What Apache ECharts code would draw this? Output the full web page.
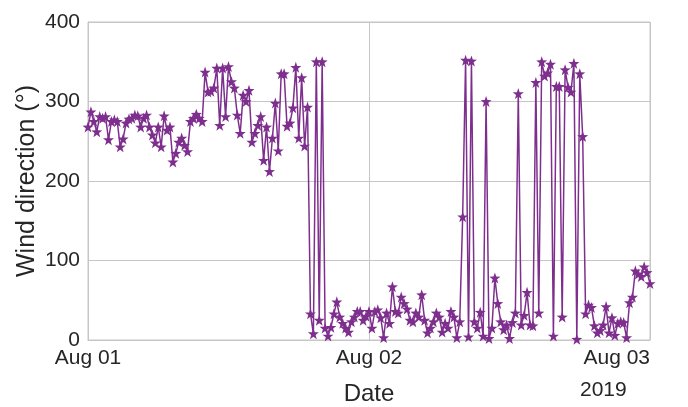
<!DOCTYPE html>
<html>
<head>
<meta charset="utf-8">
<script src="https://cdn.jsdelivr.net/npm/echarts@6/dist/echarts.min.js"></script>
<style>
  html, body { margin: 0; padding: 0; background: #ffffff; }
  #chart { width: 688px; height: 407px; }
</style>
</head>
<body>
<div id="chart"></div>
<script>
// Wind direction readings, one every 15 minutes from Aug 01 00:00 to Aug 03 00:00 (2019).
// The x axis counts hours since Aug 01 00:00.
const stepHours = 0.25;
const windDirection = [
  268, 287, 275, 262, 281, 279, 281, 252, 275, 277,
  275, 243, 253, 273, 278, 279, 283, 282, 268, 279,
  283, 268, 258, 248, 268, 243, 282, 264, 268, 224,
  235, 249, 254, 245, 237, 275, 279, 284, 279, 275,
  337, 312, 313, 317, 342, 270, 342, 281, 344, 325,
  317, 283, 260, 308, 300, 314, 249, 260, 270, 281,
  226, 268, 212, 254, 298, 238, 335, 335, 269, 273,
  292, 343, 254, 330, 244, 293, 33, 8, 350, 25,
  350, 15, 5, 16, 33,
  48, 29, 21, 15, 10, 23, 29, 36, 36, 25,
  30, 36, 15, 36, 38, 28, 3, 34, 21, 67,
  36, 34, 54, 46, 39, 25, 23, 34, 29, 57,
  25, 9, 15, 23, 34, 29, 10, 21, 15, 36,
  29, 3,
  23, 155, 352, 4, 351, 23, 15, 35, 5, 300,
  2, 15, 78, 46, 23, 13, 19, 2, 22, 34,
  310, 19, 31, 60, 19, 18,
  324, 34, 350, 332, 336, 347, 5, 319, 319, 29,
  340, 318, 312, 348, 1, 335, 256, 33, 44, 41,
  18, 9, 12, 19, 42, 9, 28, 6, 21, 23,
  22, 3, 47, 54, 87, 83, 80, 92, 85, 71
];

// Axis ticks and captions
const dayTicks = ['Aug 01', 'Aug 02', 'Aug 03'];
const yTicks = [0, 100, 200, 300, 400];
const yearLabel = '2019';

const hoursPerDay = 24;
const seriesData = windDirection.map((v, i) => [i * stepHours, v]);

const starPath = 'path://M0,-10L2.35,-3.24L9.51,-3.09L3.8,1.24L5.88,8.09L0,4L-5.88,8.09L-3.8,1.24L-9.51,-3.09L-2.35,-3.24Z';
const textColor = '#262626';
const gridColor = '#c6c6c6';
const fontFamily = '"Liberation Sans", Arial, sans-serif';

const chart = echarts.init(document.getElementById('chart'), null, { renderer: 'canvas' });
chart.setOption({
  animation: false,
  backgroundColor: '#ffffff',
  grid: {
    left: 88, right: 38, top: 22, bottom: 67,
    outerBoundsMode: 'none',
    containLabel: false,
    show: true, borderColor: gridColor, borderWidth: 1
  },
  xAxis: {
    type: 'value',
    min: 0,
    max: hoursPerDay * (dayTicks.length - 1),
    interval: hoursPerDay,
    name: 'Date',
    nameLocation: 'middle',
    nameGap: 42,
    nameMoveOverlap: false,
    nameTextStyle: { fontSize: 24, color: textColor, fontFamily: fontFamily },
    axisLine: { show: true, lineStyle: { color: gridColor, width: 1 } },
    axisTick: { show: false },
    splitLine: { show: true, lineStyle: { color: gridColor, width: 1 } },
    axisLabel: {
      fontSize: 21, color: textColor, fontFamily: fontFamily, margin: 8,
      alignMaxLabel: 'right',
      formatter: function (value) {
        const idx = Math.round(value / hoursPerDay);
        return dayTicks[idx] !== undefined ? dayTicks[idx] : '';
      }
    }
  },
  yAxis: {
    type: 'value',
    min: yTicks[0],
    max: yTicks[yTicks.length - 1],
    interval: 100,
    name: 'Wind direction (°)',
    nameLocation: 'middle',
    nameGap: 48,
    nameMoveOverlap: false,
    nameTextStyle: { fontSize: 25, color: textColor, fontFamily: fontFamily },
    axisLine: { show: true, lineStyle: { color: gridColor, width: 1 } },
    axisTick: { show: false },
    splitLine: { show: true, lineStyle: { color: gridColor, width: 1 } },
    axisLabel: { fontSize: 21, color: textColor, fontFamily: fontFamily, margin: 8 }
  },
  graphic: [{
    type: 'text',
    left: 580,
    top: 380,
    style: { text: yearLabel, fontSize: 21, fill: textColor, fontFamily: fontFamily }
  }],
  series: [{
    type: 'line',
    data: seriesData,
    symbol: starPath,
    symbolSize: 11,
    showAllSymbol: true,
    lineStyle: { color: '#7E2F8E', width: 1.5 },
    itemStyle: { color: '#7E2F8E' }
  }]
});
</script>
</body>
</html>
